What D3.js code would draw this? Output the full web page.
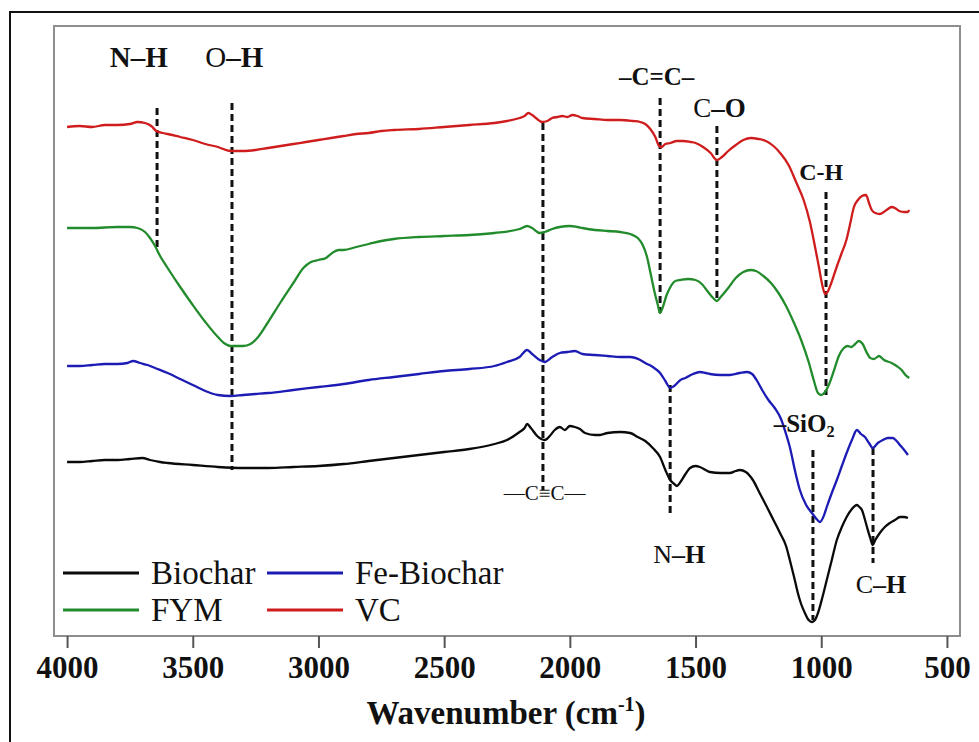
<!DOCTYPE html>
<html>
<head>
<meta charset="utf-8">
<script src="https://cdn.jsdelivr.net/npm/d3@7/dist/d3.min.js"></script>
<style>
  html, body { margin: 0; padding: 0; background: #fff; }
  svg { display: block; }
  text { font-family: "Liberation Serif", "Times New Roman", serif; fill: #111; }
</style>
</head>
<body>
<svg id="chart" width="979" height="742"></svg>
<script>
// FTIR spectra: [wavenumber (cm-1), transmittance (a.u., stacked)]
const vcSpectrum = [
  [4000,509],[3950,510],[3900,509],[3850,511],[3800,511],[3750,512],[3720,514],[3690,513],[3665,510],[3645,505],
  [3620,503],[3600,502],[3550,499],[3500,496],[3450,492],[3400,489],[3350,485],[3300,485],[3250,486],[3200,488],
  [3150,490],[3100,492],[3050,494],[3000,496],[2950,498],[2900,500],[2850,502],[2800,503],[2750,505],[2700,506],
  [2600,507],[2500,509],[2400,511],[2300,513],[2250,515],[2200,518],[2180,520],[2165,523],[2150,521],[2130,517],
  [2110,514],[2090,515],[2070,518],[2050,519],[2030,520],[2010,519],[1990,521],[1970,520],[1950,518],[1900,517],
  [1850,516],[1800,516],[1750,515],[1720,514],[1700,512],[1680,507],[1660,499],[1645,490],[1635,489],[1620,492],
  [1600,493],[1575,495],[1550,495],[1520,494],[1500,493],[1470,489],[1440,483],[1415,476],[1395,479],[1370,485],
  [1340,491],[1310,496],[1280,498],[1250,497],[1220,495],[1190,490],[1160,482],[1130,471],[1100,454],[1070,436],
  [1045,414],[1030,396],[1010,370],[995,350],[985,342],[975,344],[960,353],[940,368],[920,382],[900,396],
  [886,411],[870,429],[854,436],[838,440],[822,441],[810,433],[799,426],[785,423],[767,422],[740,426],
  [720,429],[707,428],[690,425],[670,424],[656,424],[650,426]
];

const fymSpectrum = [
  [4000,408],[3900,408],[3800,409],[3750,409],[3720,408],[3690,404],[3670,398],[3650,390],[3630,380],[3600,368],
  [3550,349],[3500,331],[3450,314],[3400,299],[3370,292],[3350,290],[3300,290],[3270,292],[3240,299],[3200,314],
  [3150,334],[3100,353],[3060,368],[3030,374],[3000,376],[2970,378],[2940,384],[2920,386],[2900,386],[2850,389],
  [2800,392],[2750,395],[2700,397],[2600,399],[2500,400],[2400,401],[2300,403],[2200,407],[2170,410],[2150,408],
  [2120,403],[2100,404],[2070,407],[2040,409],[2000,410],[1970,409],[1950,408],[1900,406],[1850,405],[1800,404],
  [1760,402],[1730,398],[1710,391],[1693,379],[1680,364],[1665,346],[1650,331],[1641,323],[1630,329],[1615,341],
  [1600,349],[1580,355],[1560,356],[1530,357],[1500,356],[1475,352],[1450,344],[1430,338],[1415,335],[1400,339],
  [1370,348],[1340,358],[1310,364],[1280,366],[1260,365],[1230,360],[1200,353],[1170,343],[1140,330],[1110,314],
  [1080,296],[1050,274],[1030,256],[1013,243],[1000,241],[985,244],[970,251],[950,265],[930,280],[910,288],
  [895,290],[880,289],[865,292],[850,295],[835,292],[820,284],[805,278],[790,277],[770,280],[750,276],
  [720,273],[700,270],[680,266],[665,261],[650,258]
];

const feBiocharSpectrum = [
  [4000,270],[3950,270],[3900,271],[3850,272],[3800,272],[3760,273],[3737,275],[3710,273],[3680,271],[3650,268],
  [3600,263],[3550,257],[3500,251],[3450,245],[3400,241],[3350,240],[3300,241],[3250,242],[3200,243],[3100,246],
  [3000,249],[2900,252],[2800,256],[2700,259],[2600,262],[2500,265],[2400,267],[2300,270],[2250,274],[2200,279],
  [2170,286],[2150,282],[2120,276],[2100,274],[2070,279],[2040,283],[2010,284],[1980,285],[1950,282],[1900,281],
  [1850,280],[1800,279],[1760,279],[1720,276],[1700,273],[1670,269],[1641,263],[1620,255],[1601,248],[1585,250],
  [1560,256],[1540,258],[1510,262],[1483,264],[1460,263],[1443,262],[1400,261],[1364,261],[1324,263],[1295,264],
  [1275,262],[1255,255],[1235,246],[1210,236],[1185,228],[1160,217],[1140,202],[1125,189],[1105,166],[1085,146],
  [1060,131],[1037,123],[1015,116],[1005,114],[990,120],[978,129],[958,143],[938,156],[918,170],[899,183],
  [878,196],[858,206],[842,202],[826,199],[810,193],[795,188],[775,193],[755,196],[735,198],[715,198],
  [700,195],[687,191],[670,186],[655,181]
];

const biocharSpectrum = [
  [4000,174],[3950,174],[3900,175],[3850,176],[3800,176],[3750,177],[3700,178],[3670,176],[3630,174],[3600,173],
  [3500,171],[3400,169],[3300,168],[3200,168],[3100,169],[3000,170],[2900,172],[2800,175],[2700,178],[2600,181],
  [2500,184],[2400,187],[2300,192],[2250,196],[2200,204],[2180,208],[2170,212],[2155,208],[2130,200],[2100,196],
  [2080,200],[2060,206],[2040,209],[2020,206],[2000,210],[1980,209],[1960,207],[1940,203],[1900,201],[1880,201],
  [1850,203],[1800,204],[1760,203],[1730,199],[1700,195],[1670,188],[1641,179],[1620,166],[1601,156],[1585,152],
  [1574,150],[1560,154],[1540,162],[1522,168],[1500,170],[1483,169],[1460,166],[1443,164],[1400,163],[1364,163],
  [1340,165],[1324,166],[1300,164],[1272,156],[1245,143],[1216,129],[1190,116],[1164,103],[1140,90],[1125,76],
  [1108,59],[1093,43],[1080,32],[1065,23],[1050,16],[1037,14],[1025,16],[1013,23],[995,39],[978,56],
  [958,76],[938,96],[918,109],[899,119],[878,127],[858,131],[848,129],[838,126],[828,118],[818,109],
  [805,98],[795,91],[785,96],[767,103],[747,109],[727,113],[707,116],[687,119],[670,119],[655,118]
];

const seriesNames = ["Biochar", "Fe-Biochar", "FYM", "VC"];
const seriesColors = ["#0a0a0a", "#1c1cb4", "#228b2c", "#cf1c1c"];
const seriesData = [biocharSpectrum, feBiocharSpectrum, fymSpectrum, vcSpectrum];

const xTicks = [4000, 3500, 3000, 2500, 2000, 1500, 1000, 500];

// band markers: [wavenumber, from, to]
const bandLines = [
  [3642, 528, 386], [3344, 533, 166], [2107, 513, 146], [1641, 538, 323], [1415, 510, 336],
  [981, 444, 241], [1601, 251, 121], [1033, 186, 16], [794, 188, 73]
];

// band labels: [wavenumber, level, font size, parts]; parts are [text, bold, subscript]
const bandLabels = [
  [3715, 569, 29, [["N–H", true]]],
  [3335, 569, 29, [["O", false], ["–H", true]]],
  [1655, 551, 25, [["–C=C–", true]]],
  [1405, 519, 27, [["C", false], ["–O", true]]],
  [1000, 456, 24, [["C-H", true]]],
  [1068, 204, 25, [["–SiO", true], ["2", true, true]]],
  [2100, 136, 21, [["—C≡C—", false]]],
  [1565, 73, 26, [["N", false], ["–H", true]]],
  [762, 43, 26, [["C", false], ["–H", true]]]
];

const W = 979, H = 742;
const plot = { left: 54, right: 960, top: 26, bottom: 636 };
const serif = '"Liberation Serif", "Times New Roman", serif';

const svg = d3.select("#chart");

const x = d3.scaleLinear().domain([4052, 448]).range([plot.left, plot.right]);
const y = d3.scaleLinear().domain([0, 610]).range([plot.bottom, plot.top]);

// page border
svg.append("path")
  .attr("d", `M10,${H + 5} V12 H${W + 5}`)
  .attr("fill", "none").attr("stroke", "#111").attr("stroke-width", 2);

// band marker lines
svg.append("g").selectAll("line").data(bandLines).join("line")
  .attr("x1", d => x(d[0])).attr("x2", d => x(d[0]))
  .attr("y1", d => y(d[1])).attr("y2", d => y(d[2]))
  .attr("stroke", "#111").attr("stroke-width", 3).attr("stroke-dasharray", "7,4");

// spectra
const line = d3.line().x(d => x(d[0])).y(d => y(d[1])).curve(d3.curveMonotoneX);
svg.append("g").selectAll("path").data(seriesData).join("path")
  .attr("d", line)
  .attr("fill", "none")
  .attr("stroke", (d, i) => seriesColors[i])
  .attr("stroke-width", 2.3)
  .attr("stroke-linejoin", "round");

// plot frame
svg.append("rect")
  .attr("x", plot.left).attr("y", plot.top)
  .attr("width", plot.right - plot.left).attr("height", plot.bottom - plot.top)
  .attr("fill", "none").attr("stroke", "#8e8e8e").attr("stroke-width", 2);

// x axis
const xAxis = d3.axisBottom(x).tickValues(xTicks).tickSize(12).tickPadding(8).tickFormat(d3.format("d"));
const gx = svg.append("g").attr("transform", `translate(0,${plot.bottom})`).call(xAxis)
  .attr("font-family", null);
gx.select(".domain").remove();
gx.selectAll(".tick line").attr("stroke", "#555").attr("stroke-width", 2);
gx.selectAll(".tick text")
  .style("font-family", serif)
  .attr("font-size", 31).attr("font-weight", "bold").attr("fill", "#111");

// axis title
const title = svg.append("text")
  .attr("x", 506).attr("y", 724).attr("text-anchor", "middle")
  .style("font-family", serif)
  .attr("font-size", 33).attr("font-weight", "bold");
title.append("tspan").text("Wavenumber (cm");
title.append("tspan").attr("font-size", 20).attr("dy", -13).text("-1");
title.append("tspan").attr("dy", 13).text(")");

// band labels
bandLabels.forEach(([wn, lvl, size, parts]) => {
  const t = svg.append("text")
    .attr("x", x(wn)).attr("y", y(lvl))
    .style("font-family", serif)
    .attr("text-anchor", "middle").attr("font-size", size);
  parts.forEach(([s, bold, sub]) => {
    const ts = t.append("tspan").text(s).attr("font-weight", bold ? "bold" : "normal");
    if (sub) ts.attr("font-size", size * 0.65).attr("dy", 5);
  });
});

// legend
const legendPos = [[63, 573], [267, 573], [63, 610], [267, 610]];
const lg = svg.append("g").selectAll("g").data(seriesNames).join("g")
  .attr("transform", (d, i) => `translate(${legendPos[i][0]},${legendPos[i][1]})`);
lg.append("line").attr("x1", 0).attr("x2", 76).attr("y1", 0).attr("y2", 0)
  .attr("stroke", (d, i) => seriesColors[i]).attr("stroke-width", 3);
lg.append("text").attr("x", 88).attr("y", 11)
  .style("font-family", serif)
  .attr("font-size", 33).text(d => d);
</script>
</body>
</html>
